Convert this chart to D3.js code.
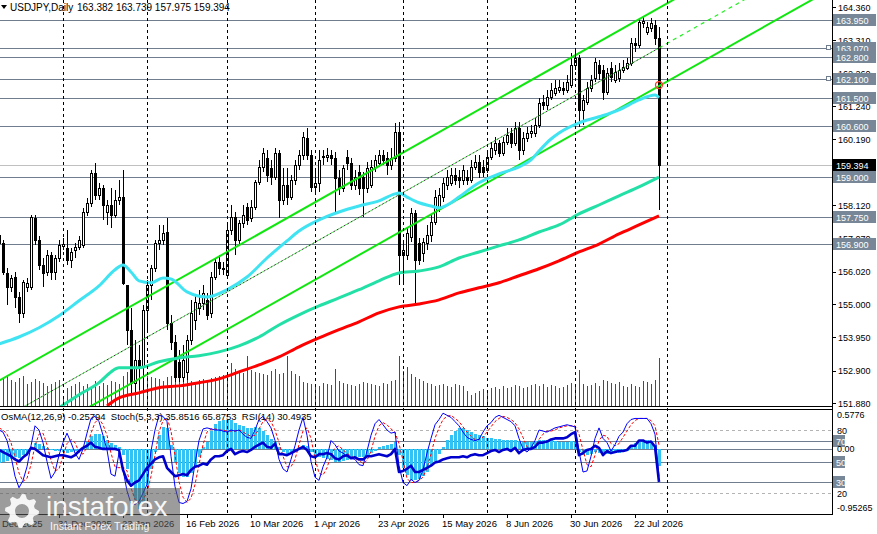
<!DOCTYPE html>
<html>
<head>
<meta charset="utf-8">
<script src="https://cdn.jsdelivr.net/npm/d3@7"></script>
<style>
  body { margin: 0; background: #fff; }
  svg { display: block; font-family: "Liberation Sans", Arial, sans-serif; }
</style>
</head>
<body>
<script>
// ---- USDJPY daily bars, 9 Dec 2025 .. 30 Jul 2026 ----
const opens = [
  157.18,156.93,155.98,155.54,155.85,155.22,154.72,155.54,155.54,157.71,
  157.02,156.23,156.01,156.55,156.01,156.45,156.83,156.77,156.39,156.71,
  156.80,156.86,157.90,158.19,159.13,158.44,158.66,157.90,158.12,157.81,
  158.28,158.37,155.60,154.19,152.52,153.24,153.02,154.82,155.60,156.14,
  156.93,157.02,157.27,154.41,153.81,153.18,152.70,152.86,153.87,154.50,
  154.88,155.04,155.13,154.72,155.85,156.33,156.11,155.92,157.34,157.74,
  157.02,157.56,158.06,157.71,158.06,158.85,159.32,159.60,159.29,159.00,
  159.76,158.28,158.75,158.37,158.91,159.38,159.70,160.23,159.70,158.69,
  158.82,159.63,159.63,159.70,159.60,158.97,158.66,159.63,159.45,158.75,
  159.16,159.00,158.66,158.75,159.32,159.45,159.70,159.60,159.38,159.60,
  160.42,156.55,156.55,157.11,157.87,156.93,156.61,156.93,157.18,157.59,
  158.06,158.37,158.75,158.82,159.07,159.00,158.91,159.00,158.91,159.32,
  159.48,159.32,159.23,159.63,159.86,160.08,159.76,160.11,160.39,160.08,
  160.55,159.86,160.23,160.39,160.39,160.64,161.37,161.27,161.52,161.65,
  161.75,161.81,161.75,161.90,162.53,162.75,161.12,161.37,161.81,162.12,
  162.53,162.38,161.68,162.44,162.06,162.12,162.38,162.44,162.60,163.23,
  163.16,163.86,163.57,163.70,163.79,163.382
];
const highs = [
  157.34,157.02,156.14,155.92,156.01,155.38,155.76,155.82,157.81,157.81,
  157.15,156.45,156.71,156.64,156.55,157.02,157.08,157.34,156.77,156.93,
  157.15,158.03,158.34,159.23,159.45,158.82,158.75,158.28,158.66,158.60,
  158.91,159.23,155.60,154.88,153.87,153.71,154.97,155.76,156.23,157.02,
  157.49,157.49,157.71,154.66,154.03,153.56,153.71,154.03,155.13,155.29,
  155.45,155.60,155.35,156.01,156.45,156.55,156.33,157.49,158.12,157.90,
  157.65,158.12,158.19,158.28,158.91,159.54,159.92,159.86,159.54,159.92,
  159.86,159.29,159.29,159.07,159.54,159.86,160.42,160.55,159.86,159.23,
  159.86,159.86,159.92,159.86,159.79,159.23,159.38,159.86,159.60,159.23,
  159.38,159.16,159.48,159.54,159.70,159.86,159.86,159.79,159.92,160.71,
  160.74,157.02,157.40,158.03,157.97,157.08,157.08,157.49,157.81,158.60,
  158.66,158.97,159.23,159.29,159.29,159.23,159.38,159.23,159.54,159.70,
  159.70,159.54,159.86,160.11,160.26,160.17,160.26,160.55,160.55,160.74,
  160.74,160.42,160.58,160.64,160.86,161.49,161.59,161.75,161.97,162.06,
  162.06,162.00,162.22,162.91,163.00,162.85,161.59,162.00,162.22,162.75,
  162.69,162.53,162.44,162.63,162.53,162.60,162.69,162.75,163.38,163.38,
  164.01,164.04,163.89,164.01,163.95,163.739
];
const lows = [
  156.71,155.92,154.97,155.38,154.88,154.41,154.56,155.38,155.45,156.86,
  156.08,155.54,155.89,155.76,155.76,156.33,156.71,156.23,156.14,156.45,
  156.71,156.77,157.78,158.06,158.28,158.28,157.65,157.49,157.40,157.71,
  158.12,155.60,153.71,152.14,152.14,152.30,152.20,154.19,155.13,156.01,
  156.71,156.86,154.19,153.56,152.55,152.55,152.55,152.61,153.71,154.19,
  154.66,154.82,154.50,154.56,155.76,155.92,155.92,155.82,157.18,156.55,
  156.86,157.40,157.49,157.59,157.97,158.75,159.16,158.85,158.75,158.91,
  157.71,158.12,158.12,158.28,158.75,159.23,159.54,159.54,158.53,158.44,
  158.53,159.38,159.48,159.38,157.90,158.44,158.53,159.23,158.60,158.60,
  158.44,157.74,158.50,158.66,159.16,159.32,159.38,159.07,159.23,159.48,
  155.60,155.60,156.39,156.96,155.04,156.23,156.33,156.71,156.96,157.49,
  157.90,158.22,158.60,158.72,158.75,158.66,158.75,158.75,158.82,159.23,
  158.97,159.00,159.13,159.54,159.70,159.63,159.67,160.01,159.92,159.98,
  159.54,159.70,160.11,160.23,160.26,160.55,161.12,161.12,161.43,161.56,
  161.65,161.59,161.65,161.81,162.38,160.58,160.64,161.27,161.68,162.00,
  162.06,161.43,161.59,162.00,161.97,162.00,162.28,162.38,162.50,162.94,
  163.07,163.70,163.48,163.57,163.16,157.975
];
const closes = [
  156.93,156.01,155.54,155.82,155.22,154.72,155.70,155.67,157.74,157.02,
  156.23,155.98,156.55,156.01,156.45,156.86,156.89,156.39,156.64,156.80,
  157.02,157.90,158.19,159.13,158.44,158.66,158.12,158.12,157.81,158.28,
  158.37,155.67,154.19,152.52,153.24,153.02,154.82,155.60,156.14,156.93,
  157.02,157.24,154.41,153.81,152.70,152.70,153.24,153.87,154.72,155.07,
  155.04,155.35,154.66,155.85,156.33,156.14,156.14,157.34,157.74,157.02,
  157.56,157.81,157.65,158.06,158.85,159.32,159.76,159.07,159.00,159.76,
  158.28,158.75,158.37,158.91,159.38,159.70,160.26,159.70,158.69,158.82,
  159.54,159.67,159.70,159.60,158.97,158.66,159.29,159.45,158.75,159.00,
  158.66,158.66,159.29,159.32,159.54,159.70,159.54,159.38,159.60,160.42,
  156.55,156.71,157.24,157.87,156.39,156.39,156.96,157.18,157.59,158.37,
  158.44,158.82,159.00,159.07,158.91,158.91,159.23,158.91,159.32,159.48,
  159.16,159.16,159.63,159.92,160.08,159.76,160.11,160.33,160.08,160.55,
  159.86,160.23,160.39,160.45,160.64,161.34,161.27,161.52,161.75,161.81,
  161.84,161.75,162.00,162.53,162.75,161.12,161.43,161.81,162.06,162.63,
  162.28,161.68,162.28,162.15,162.31,162.38,162.47,162.60,163.23,163.16,
  163.89,163.92,163.73,163.86,163.38,159.394
];
const volumes = [
  50,56,60,52,48,56,60,44,48,54,50,46,40,44,48,52,
  20,36,40,44,48,40,44,36,50,40,46,42,50,48,44,
  60,68,74,70,66,62,60,58,56,54,
  50,58,60,56,54,52,56,50,48,52,54,50,56,58,60,62,58,
  86,74,70,66,100,72,68,66,64,62,70,74,64,66,100,70,64,60,
  48,46,44,42,40,46,44,42,74,50,46,44,42,40,44,48,46,44,42,40,46,44,50,52,
  100,70,78,64,58,54,
  50,46,44,40,42,44,40,38,44,42,40,30,22,26,30,34,32,36,38,34,
  40,36,38,42,40,36,38,42,44,40,44,38,42,40,36,38,42,46,44,
  72,44,40,42,46,40,52,50,46,44,48,40,38,44,40,38,50,48,44,52,96
];

// moving averages, read as [bar index, price]
const maFast = [
  [0,153.74],[5,153.96],[10,154.25],[15,154.63],[20,155.10],[25,155.57],[29,156.08],[31,156.23],
  [33,156.01],[35,155.73],[38,155.67],[41,155.82],[43,155.79],[47,155.38],[52,155.22],[57,155.45],
  [62,155.85],[67,156.45],[72,156.99],[75,157.30],[80,157.65],[85,157.90],[90,158.09],[95,158.25],
  [99,158.47],[100,158.50],[102,158.37],[105,158.19],[108,158.09],[110,158.03],[113,158.19],
  [115,158.37],[120,158.82],[125,159.10],[130,159.32],[133,159.54],[135,159.82],[138,160.20],
  [140,160.39],[145,160.71],[150,160.90],[155,161.12],[160,161.43],[164,161.59],[165,161.50]
];
const maMid = [
  [15,151.73],[20,152.14],[25,152.52],[28,152.86],[30,152.99],[35,152.99],[40,153.18],[45,153.30],
  [50,153.37],[55,153.49],[60,153.68],[65,153.96],[70,154.34],[75,154.66],[80,154.94],[85,155.19],
  [90,155.45],[95,155.73],[100,155.98],[105,156.04],[110,156.17],[115,156.45],[120,156.64],
  [125,156.83],[130,157.02],[135,157.27],[140,157.49],[145,157.84],[150,158.12],[155,158.41],
  [160,158.69],[165,159.00]
];
const maSlow = [
  [27,151.79],[30,152.04],[35,152.20],[40,152.36],[45,152.42],[50,152.52],[55,152.64],[60,152.86],
  [65,153.08],[70,153.33],[75,153.65],[80,153.93],[85,154.19],[90,154.44],[95,154.72],[100,154.91],
  [105,155.00],[110,155.13],[115,155.35],[120,155.51],[125,155.67],[130,155.89],[135,156.11],
  [140,156.36],[145,156.64],[150,156.89],[155,157.21],[160,157.49],[165,157.78]
];

// channel: [bar1, price1, bar2, price2]
const channelUpper = [0, 152.58, 165, 164.33];
const channelLower = [0, 150.15, 165, 161.87];
const channelMid = [0, 151.32, 165, 163.07];

// indicators
const osma = [
  -0.21,-0.20,-0.18,-0.15,-0.12,-0.13,-0.10,-0.06,0.02,0.08,
  0.07,0.04,0.01,-0.02,-0.03,-0.03,-0.05,-0.06,-0.05,-0.04,
  -0.02,0.02,0.10,0.18,0.22,0.22,0.18,0.12,0.08,0.05,
  0.02,-0.10,-0.30,-0.55,-0.75,-0.88,-0.78,-0.55,-0.30,-0.05,
  0.20,0.32,0.30,0.05,-0.20,-0.35,-0.42,-0.42,-0.35,-0.25,
  -0.12,0.02,0.10,0.25,0.36,0.40,0.42,0.42,0.42,0.38,
  0.35,0.33,0.30,0.30,0.32,0.30,0.25,0.20,0.14,0.10,
  0.02,-0.05,-0.08,-0.05,0.00,0.03,0.05,0.04,-0.05,-0.12,
  -0.12,-0.13,-0.15,-0.17,-0.19,-0.19,-0.18,-0.16,-0.15,-0.13,
  -0.12,-0.12,-0.10,-0.07,-0.03,0.02,0.04,0.05,0.07,0.10,
  -0.10,-0.28,-0.38,-0.45,-0.46,-0.44,-0.40,-0.34,-0.26,-0.18,
  -0.08,0.03,0.12,0.20,0.26,0.30,0.30,0.27,0.24,0.22,
  0.20,0.18,0.16,0.15,0.14,0.14,0.13,0.13,0.12,0.13,
  0.11,0.10,0.10,0.10,0.11,0.13,0.12,0.12,0.12,0.11,
  0.10,0.10,0.10,0.11,0.10,-0.05,-0.09,-0.10,-0.08,-0.05,
  -0.06,-0.09,-0.08,-0.07,-0.07,-0.06,-0.05,-0.04,0.05,0.08,
  0.12,0.13,0.12,0.11,0.06,-0.25794
];
const stochMain = [
  80,78,70,55,36,25,32,45,65,84, 80,68,50,34,40,56,68,77,68,58,
  52,62,77,91,93,88,75,61,38,36, 58,42,22,10,9,12,20,28,60,80,
  94,93,88,55,26,11,10,12,24,48, 70,81,82,81,80,80,79,78,80,79,
  80,76,73,72,80,90,93,88,82,70, 52,43,40,52,65,80,92,75,50,35,
  32,45,54,70,66,60,58,55,53,52, 47,46,60,75,86,90,85,80,77,78,
  46,30,27,33,30,32,42,58,72,85, 90,96,94,92,88,84,78,73,71,70,
  71,78,84,87,92,94,92,90,88,84, 72,62,59,63,70,80,79,78,80,82,
  83,84,85,84,83,60,40,41,55,72, 82,72,68,60,66,74,78,86,90,91,
  91,91,91,86,76,35.8516
];
const stochSignal = [
  82,80,76,68,54,39,31,34,47,65, 76,77,66,51,41,43,55,67,71,68,
  59,57,64,77,87,91,85,75,58,45, 44,45,41,25,14,10,14,20,36,56,
  78,89,92,79,56,31,16,11,15,28, 47,66,78,81,81,80,80,79,79,79,
  80,78,76,74,75,81,88,90,88,80, 68,55,45,45,52,66,79,82,72,53,
  39,37,44,56,63,65,61,58,55,53, 51,48,51,60,74,84,87,85,81,78,
  67,51,34,30,30,32,35,44,57,72, 82,90,93,94,91,88,83,78,74,71,
  71,73,78,83,88,91,93,92,90,87, 81,73,64,61,64,71,76,79,79,80,
  82,83,84,84,84,76,61,47,45,56, 70,75,74,67,65,67,73,79,85,89,
  91,91,91,89,84,65.8753
];
const rsi = [
  61,59,57,55,52,50,54,57,63,62, 59,56,55,54,55,56,56,55,54,56,
  60,63,65,68,64,63,62,62,62,62, 61,42,32,27,30,32,38,44,48,52,
  54,55,44,40,36,37,38,37,42,45, 46,48,47,52,55,55,56,60,62,57,
  59,60,59,61,64,66,68,64,63,67, 57,57,56,58,60,62,64,61,55,54,
  57,57,58,57,53,52,55,56,53,54, 52,52,55,55,56,57,56,55,57,62,
  40,41,43,46,40,40,42,44,46,49, 50,52,53,54,54,54,55,54,56,57,
  56,56,58,60,61,59,61,62,60,63, 58,61,62,62,64,68,68,69,71,72,
  72,72,73,76,78,56,58,61,62,65, 63,56,60,58,59,60,60,61,65,65,
  70,70,68,69,64,30.4935
];

// axis / levels
const priceTicks = ["164.360","163.310","162.260","161.240","160.190","159.150","158.120",
                    "157.070","156.020","155.000","153.950","152.900","151.880"];
const levelPrices = [163.95, 163.07, 162.80, 162.10, 161.50, 160.60, 159.00, 157.75, 156.90];
const markedLevels = [163.07, 162.10];
const bidPrice = 159.394;
const oscLevelsSolid = [70, 50, 30];
const oscLevelsDashed = [80, 20];
const timeLabelDates = ["2025-12-08","2025-12-31","2026-01-23","2026-02-16","2026-03-10","2026-04-01",
                        "2026-04-23","2026-05-15","2026-06-08","2026-06-30","2026-07-22"];
const holidays = ["2025-12-25", "2026-01-01"];

// ---- layout ----
const W = 877, H = 534;
const plotR = 832;
const mainBottom = 406, indTop = 409, indBottom = 514;
const slate = "#707d8e";

const isoFmt = d3.utcFormat("%Y-%m-%d");
const labelFmt = d3.utcFormat("%-d %b %Y");
const calendar = d3.utcDays(new Date(Date.UTC(2025, 11, 8)), new Date(Date.UTC(2026, 8, 1)))
  .filter(d => d.getUTCDay() % 6 !== 0 && !holidays.includes(isoFmt(d)));
const firstBar = 1; // calendar[1] is 9 Dec 2025

const x = d3.scaleLinear().domain([0, 209]).range([-5, 831]);
const bx = i => x(i + firstBar);
const y = d3.scaleLinear().domain([151.88, 164.36]).range([403, 7]);
const yVol = d3.scaleLinear().domain([0, 100]).range([mainBottom, mainBottom - 50]);
const yOsma = d3.scaleLinear().domain([-0.95265, 0.5776]).range([indBottom, indTop]);
const yOsc = d3.scaleLinear().domain([0, 100]).range([indBottom, indTop]);

const svg = d3.select("body").append("svg").attr("width", W).attr("height", H);
const defs = svg.append("defs");
defs.append("clipPath").attr("id", "clipMain")
  .append("rect").attr("x", 0).attr("y", 0).attr("width", plotR).attr("height", mainBottom);
defs.append("clipPath").attr("id", "clipInd")
  .append("rect").attr("x", 0).attr("y", indTop).attr("width", plotR).attr("height", indBottom - indTop);

const main = svg.append("g").attr("clip-path", "url(#clipMain)");
const ind = svg.append("g").attr("clip-path", "url(#clipInd)");

// month separators
const monthStarts = d3.range(1, calendar.length)
  .filter(k => calendar[k].getUTCMonth() !== calendar[k - 1].getUTCMonth());
svg.append("g").selectAll("line").data(monthStarts).join("line")
  .attr("x1", k => Math.round(x(k)) + 0.5).attr("x2", k => Math.round(x(k)) + 0.5)
  .attr("y1", 0).attr("y2", indBottom)
  .attr("stroke", "#000").attr("stroke-width", 1).attr("stroke-dasharray", "3,3");

// horizontal levels
main.append("g").attr("shape-rendering", "crispEdges").selectAll("line").data(levelPrices).join("line")
  .attr("x1", 0).attr("x2", plotR)
  .attr("y1", p => Math.round(y(p)) + 0.5).attr("y2", p => Math.round(y(p)) + 0.5)
  .attr("stroke", slate);
main.append("line").attr("shape-rendering", "crispEdges")
  .attr("x1", 0).attr("x2", plotR)
  .attr("y1", Math.round(y(bidPrice)) + 0.5).attr("y2", Math.round(y(bidPrice)) + 0.5)
  .attr("stroke", "#c0c0c0");
main.append("g").selectAll("rect").data(markedLevels).join("rect")
  .attr("x", plotR - 5.5).attr("y", p => Math.round(y(p)) - 2.5)
  .attr("width", 4).attr("height", 4).attr("fill", "#fff").attr("stroke", slate);

// volumes
main.append("g").attr("shape-rendering", "crispEdges").selectAll("line").data(volumes).join("line")
  .attr("x1", (v, i) => Math.round(bx(i)) + 0.5).attr("x2", (v, i) => Math.round(bx(i)) + 0.5)
  .attr("y1", yVol(0)).attr("y2", v => yVol(v))
  .attr("stroke", "#008000");

// candles
const bars = closes.map((c, i) => ({ i, o: opens[i], h: highs[i], l: lows[i], c }));
const gC = main.append("g").attr("shape-rendering", "crispEdges");
gC.selectAll("line").data(bars).join("line")
  .attr("x1", d => Math.round(bx(d.i)) + 0.5).attr("x2", d => Math.round(bx(d.i)) + 0.5)
  .attr("y1", d => y(d.h)).attr("y2", d => y(d.l))
  .attr("stroke", "#000");
gC.selectAll("rect").data(bars).join("rect")
  .attr("x", d => Math.round(bx(d.i)) - 0.5)
  .attr("y", d => Math.round(y(Math.max(d.o, d.c))) + 0.5)
  .attr("width", 2)
  .attr("height", d => Math.max(0.5, Math.round(y(Math.min(d.o, d.c))) - Math.round(y(Math.max(d.o, d.c)))))
  .attr("fill", d => d.c >= d.o ? "#fff" : "#000")
  .attr("stroke", "#000");

// channel
function ray(seg, fromBar, toBar) {
  const [i1, p1, i2, p2] = seg;
  const at = i => p1 + (p2 - p1) * (i - i1) / (i2 - i1);
  return [[bx(fromBar), y(at(fromBar))], [bx(toBar), y(at(toBar))]];
}
const seg = d3.line();
main.append("path").attr("d", seg(ray(channelUpper, 0, 210)))
  .attr("stroke", "#11e611").attr("stroke-width", 2).attr("fill", "none");
main.append("path").attr("d", seg(ray(channelLower, 0, 210)))
  .attr("stroke", "#11e611").attr("stroke-width", 2).attr("fill", "none");
main.append("path").attr("d", seg(ray(channelMid, 0, 165)))
  .attr("stroke", "#000").attr("stroke-width", 0.8).attr("fill", "none").attr("stroke-dasharray", "2,2");
main.append("path").attr("d", seg(ray(channelMid, 0, 165)))
  .attr("stroke", "#22ee22").attr("stroke-width", 0.8).attr("fill", "none")
  .attr("stroke-dasharray", "2,2").attr("stroke-dashoffset", 2);
main.append("path").attr("d", seg(ray(channelMid, 165, 210)))
  .attr("stroke", "#22ee22").attr("stroke-width", 1.2).attr("fill", "none").attr("stroke-dasharray", "4,4");

// moving averages
const maLine = d3.line().x(d => bx(d[0])).y(d => y(d[1])).curve(d3.curveMonotoneX);
[[maSlow, "#ff0000"], [maMid, "#22e0a6"], [maFast, "#3fe3f2"]].forEach(([pts, col]) => {
  main.append("path").attr("d", maLine(pts))
    .attr("fill", "none").attr("stroke", col).attr("stroke-width", 3).attr("stroke-linejoin", "round");
});
main.append("circle").attr("cx", bx(165)).attr("cy", y(161.9)).attr("r", 3.5)
  .attr("fill", "none").attr("stroke", "#ff3b1f").attr("stroke-width", 1.3);

// header
svg.append("path").attr("d", "M1,5L7,5L4,9Z").attr("fill", "#000");
svg.append("text").attr("x", 10).attr("y", 11).attr("font-size", 10).text("USDJPY,Daily");
svg.append("text").attr("x", 77).attr("y", 11).attr("font-size", 10)
  .text([opens[165], highs[165], lows[165], closes[165]].map(d3.format(".3f")).join(" "));

// ---- indicator panel ----
ind.append("g").attr("shape-rendering", "crispEdges").selectAll("line").data(oscLevelsDashed).join("line")
  .attr("x1", 0).attr("x2", plotR)
  .attr("y1", v => Math.round(yOsc(v)) + 0.5).attr("y2", v => Math.round(yOsc(v)) + 0.5)
  .attr("stroke", "#b4b4b4").attr("stroke-dasharray", "3,3");
ind.append("g").attr("shape-rendering", "crispEdges").selectAll("line").data(oscLevelsSolid).join("line")
  .attr("x1", 0).attr("x2", plotR)
  .attr("y1", v => Math.round(yOsc(v)) + 0.5).attr("y2", v => Math.round(yOsc(v)) + 0.5)
  .attr("stroke", slate);
ind.append("line").attr("shape-rendering", "crispEdges")
  .attr("x1", 0).attr("x2", plotR)
  .attr("y1", Math.round(yOsma(0)) + 0.5).attr("y2", Math.round(yOsma(0)) + 0.5)
  .attr("stroke", slate);

ind.append("g").attr("shape-rendering", "crispEdges").selectAll("rect").data(osma).join("rect")
  .attr("x", (v, i) => Math.round(bx(i)) - 1)
  .attr("width", 3)
  .attr("y", v => Math.min(yOsma(v), yOsma(0)))
  .attr("height", v => Math.abs(yOsma(v) - yOsma(0)))
  .attr("fill", "#33c2f4");

const oscLine = d3.line().x((v, i) => bx(i)).y(v => yOsc(v));
ind.append("path").attr("d", oscLine(stochSignal))
  .attr("fill", "none").attr("stroke", "#ff0000").attr("stroke-width", 1).attr("stroke-dasharray", "3,2");
ind.append("path").attr("d", oscLine(stochMain))
  .attr("fill", "none").attr("stroke", "#0000ff").attr("stroke-width", 1);
ind.append("path").attr("d", oscLine(rsi))
  .attr("fill", "none").attr("stroke", "#0000cd").attr("stroke-width", 2.6).attr("stroke-linejoin", "round");

svg.append("text").attr("x", 1).attr("y", 420).attr("font-size", 9.5)
  .attr("xml:space", "preserve")
  .text(`OsMA(12,26,9) ${osma[165].toFixed(5)}  Stoch(5,3,3) ${stochMain[165].toFixed(4)} ${stochSignal[165].toFixed(4)}  RSI(14) ${rsi[165].toFixed(4)}`);

// ---- frames ----
const frame = svg.append("g").attr("stroke", "#000").attr("shape-rendering", "crispEdges");
frame.append("line").attr("x1", plotR + 0.5).attr("x2", plotR + 0.5).attr("y1", 0).attr("y2", indBottom + 0.5);
frame.append("line").attr("x1", 0).attr("x2", plotR).attr("y1", mainBottom + 0.5).attr("y2", mainBottom + 0.5);
frame.append("line").attr("x1", 0).attr("x2", plotR).attr("y1", indTop + 0.5).attr("y2", indTop + 0.5);
frame.append("line").attr("x1", 0).attr("x2", plotR).attr("y1", indBottom + 0.5).attr("y2", indBottom + 0.5);

// ---- right price axis ----
const axisG = svg.append("g").attr("font-size", 9);
axisG.selectAll("line").data(priceTicks).join("line")
  .attr("shape-rendering", "crispEdges")
  .attr("x1", plotR).attr("x2", plotR + 4)
  .attr("y1", t => Math.round(y(+t)) + 0.5).attr("y2", t => Math.round(y(+t)) + 0.5)
  .attr("stroke", "#000");
axisG.selectAll("text").data(priceTicks).join("text")
  .attr("x", plotR + 6).attr("y", t => y(+t) + 3.5).text(t => t);

function tag(g, yy, label, fill, w) {
  g.append("rect").attr("x", plotR + 1).attr("y", Math.round(yy) - 6)
    .attr("width", w).attr("height", 12).attr("fill", fill);
  g.append("text").attr("x", plotR + 4).attr("y", Math.round(yy) + 3.5)
    .attr("fill", "#fff").attr("font-size", 9).text(label);
}
const tagG = svg.append("g");
levelPrices.forEach(p => tag(tagG, y(p), d3.format(".3f")(p), "#778797", 43));
tag(tagG, y(bidPrice), d3.format(".3f")(bidPrice), "#000", 43);

// indicator axis
const indAxis = svg.append("g").attr("font-size", 9);
oscLevelsSolid.forEach(v => tag(indAxis, yOsc(v), String(v), "#778797", 12));
[[yOsma(0.5776) + 9, "0.5776"], [yOsc(80) + 3.5, "80"], [yOsma(0) + 3.5, "0.00"],
 [yOsc(20) + 3.5, "20"], [yOsma(-0.95265) - 3, "-0.95265"]].forEach(([yy, t]) => {
  indAxis.append("text").attr("x", plotR + 5).attr("y", yy).text(t);
});

// ---- time axis ----
const tG = svg.append("g").attr("font-size", 9.5);
timeLabelDates.forEach(s => {
  const k = calendar.findIndex(d => isoFmt(d) === s);
  const xx = Math.round(x(k));
  tG.append("line").attr("shape-rendering", "crispEdges")
    .attr("x1", xx + 0.5).attr("x2", xx + 0.5).attr("y1", indBottom).attr("y2", indBottom + 4)
    .attr("stroke", "#000");
  tG.append("text").attr("x", xx - 1).attr("y", 527).text(labelFmt(calendar[k]));
});

// ---- watermark ----
const wm = svg.append("g");
wm.append("rect").attr("x", 0).attr("y", 488).attr("width", 180).attr("height", 46)
  .attr("fill", "#5a5a5a").attr("opacity", 0.6);
const gear = [];
const teeth = 8, rO = 17, rI = 13;
for (let k = 0; k < teeth * 4; k++) {
  const a = (k / (teeth * 4)) * 2 * Math.PI;
  const r = (k % 4 === 0 || k % 4 === 1) ? rO : rI;
  gear.push([22 + r * Math.cos(a), 511 + r * Math.sin(a)]);
}
wm.append("path")
  .attr("d", d3.line()(gear) + "Z M" + (22 + 7) + ",511 A7,7 0 1,0 " + (22 - 7) + ",511 A7,7 0 1,0 " + (22 + 7) + ",511 Z")
  .attr("fill", "#fff").attr("fill-rule", "evenodd").attr("opacity", 0.9);
wm.append("text").attr("x", 46).attr("y", 516).attr("font-size", 28).attr("fill", "#fff")
  .attr("opacity", 0.92).text("instaforex");
wm.append("text").attr("x", 50).attr("y", 530).attr("font-size", 10.5).attr("fill", "#fff")
  .attr("opacity", 0.92).text("Instant Forex Trading");
</script>
</body>
</html>
